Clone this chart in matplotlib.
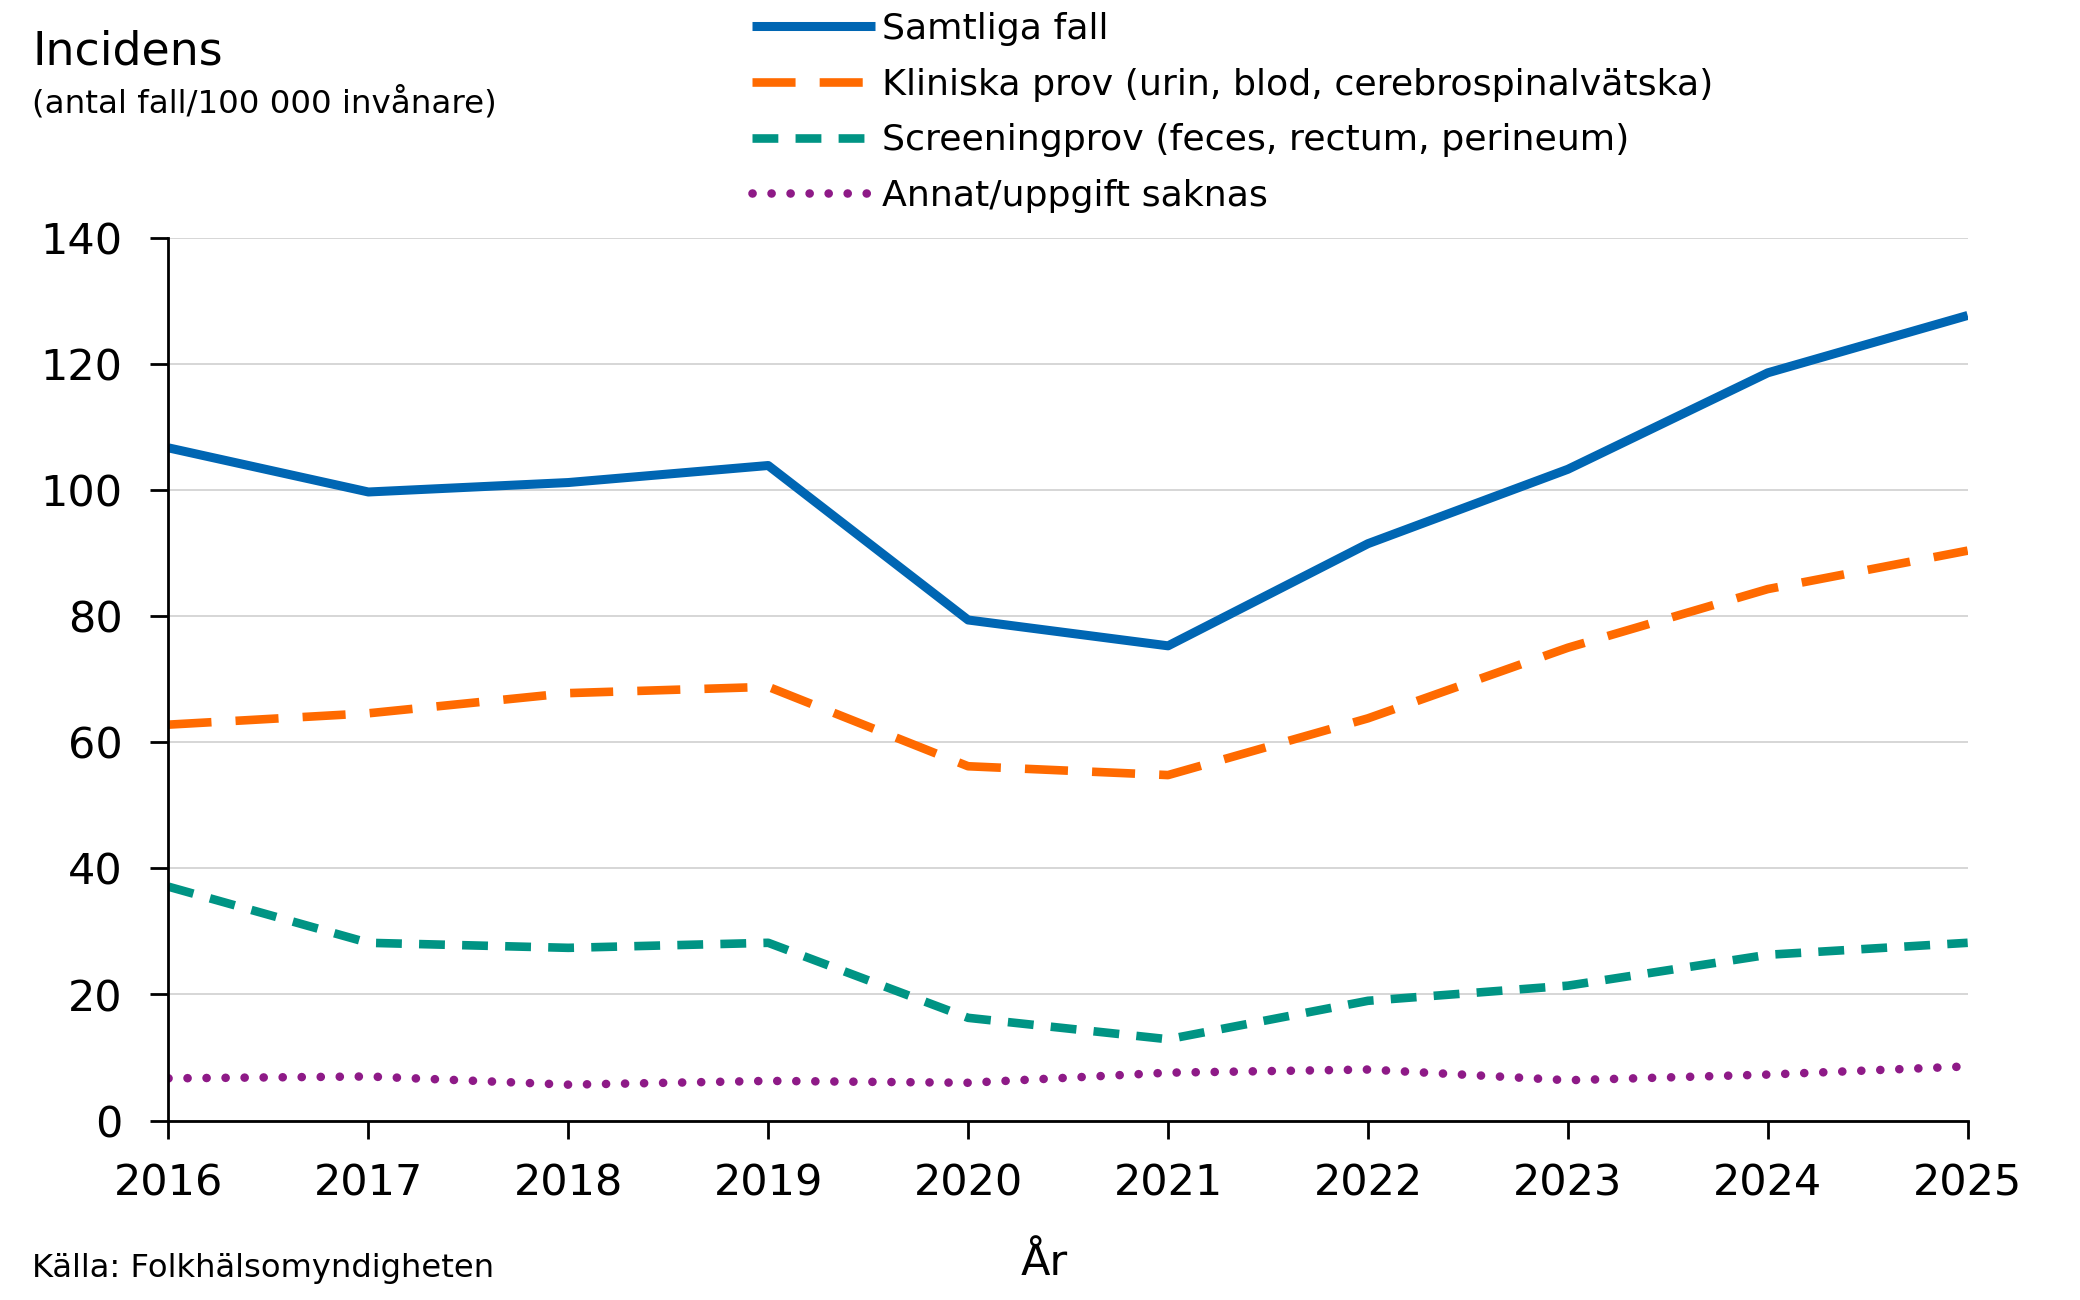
import matplotlib.pyplot as plt

years = [2016, 2017, 2018, 2019, 2020, 2021, 2022, 2023, 2024, 2025]
samtliga = [106.7, 99.7, 101.2, 103.9, 79.4, 75.3, 91.5, 103.3, 118.6, 127.7]
kliniska = [62.8, 64.6, 67.8, 68.8, 56.2, 54.8, 63.8, 75.0, 84.3, 90.4]
screening = [37.1, 28.2, 27.4, 28.2, 16.3, 12.9, 19.0, 21.4, 26.3, 28.2]
annat = [6.7, 7.0, 5.7, 6.3, 6.0, 7.6, 8.1, 6.4, 7.3, 8.6]

labels = ["Samtliga fall",
          "Kliniska prov (urin, blod, cerebrospinalvätska)",
          "Screeningprov (feces, rectum, perineum)",
          "Annat/uppgift saknas"]

plt.rcParams['font.family'] = ['DejaVu Sans']

fig = plt.figure(figsize=(20.8, 13), dpi=100)
ax = fig.add_axes([0.081, 0.138, 0.865, 0.679])

ax.plot(years, samtliga, color="#0066B3", lw=6.5, solid_capstyle="butt", label=labels[0])
ax.plot(years, kliniska, color="#FF6A00", lw=6.2, linestyle=(0, (5, 2.8)), label=labels[1])
ax.plot(years, screening, color="#009484", lw=6.2, linestyle=(0, (3, 2)), label=labels[2])
ax.plot(years, annat, color="#8E1A87", lw=6.2, linestyle=(0, (0.01, 2.2)),
        dash_capstyle="round", label=labels[3])

ax.set_xlim(2016, 2025)
ax.set_ylim(0, 140)
ax.set_yticks(range(0, 141, 20))
ax.set_xticks(years)
ax.grid(axis="y", color="#d0d0d0", lw=1.2)
ax.set_axisbelow(True)
for s in ["top", "right"]:
    ax.spines[s].set_visible(False)
for s in ["left", "bottom"]:
    ax.spines[s].set_linewidth(2)
ax.tick_params(axis="both", length=13, width=2, labelsize=31)
ax.tick_params(axis="x", pad=17)
ax.tick_params(axis="y", pad=20)
ax.set_xlabel("År", fontsize=31)
ax.xaxis.set_label_coords(0.487, -0.138)

fig.text(0.0155, 0.96, "Incidens", fontsize=33, va="center", ha="left")
fig.text(0.0155, 0.921, "(antal fall/100 000 invånare)", fontsize=23.4, va="center", ha="left")
fig.text(0.0155, 0.024, "Källa: Folkhälsomyndigheten", fontsize=23.2, va="center", ha="left")

fig.legend(loc="upper left", bbox_to_anchor=(0.353, 1.005), frameon=False,
           fontsize=26.2, handlelength=3.36, handletextpad=0.2, labelspacing=0.6,
           borderpad=0)

fig.savefig("out.png", dpi=100)
